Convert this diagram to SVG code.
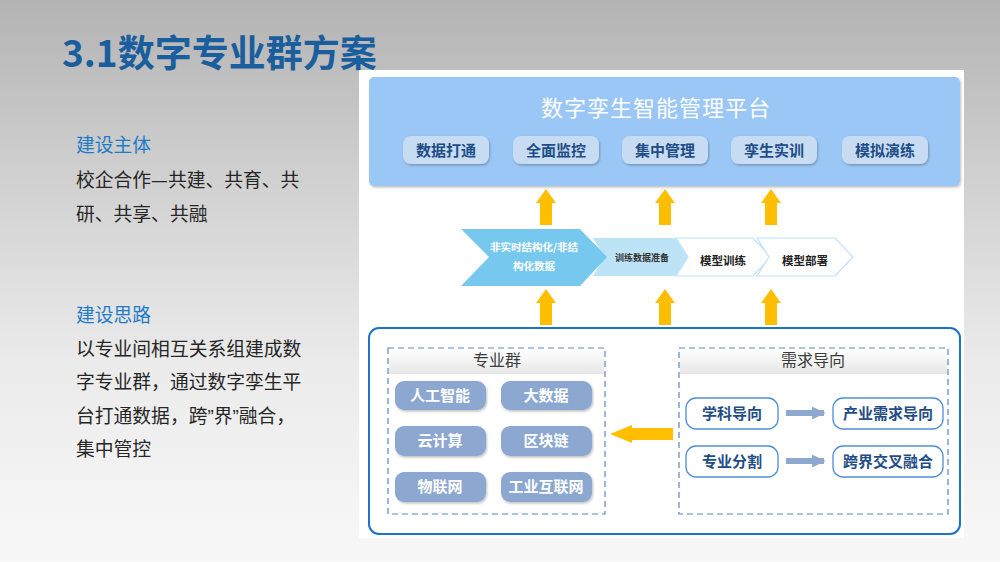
<svg xmlns="http://www.w3.org/2000/svg" width="1000" height="562" viewBox="0 0 1000 562">
<defs>
<linearGradient id="bg" x1="0" y1="0" x2="0" y2="1">
<stop offset="0" stop-color="#b3b3b3"/>
<stop offset="0.3" stop-color="#cfcfcf"/>
<stop offset="0.65" stop-color="#ebebeb"/>
<stop offset="1" stop-color="#f8f8f8"/>
</linearGradient>
<linearGradient id="hdr" x1="0" y1="0" x2="0" y2="1">
<stop offset="0" stop-color="#ffffff"/>
<stop offset="1" stop-color="#e6e6e6"/>
</linearGradient>
<filter id="sh" x="-10%" y="-10%" width="125%" height="140%">
<feDropShadow dx="1" dy="1.5" stdDeviation="1" flood-color="#000" flood-opacity="0.25"/>
</filter>
<marker id="gah" viewBox="0 0 10 10" refX="9" refY="5" markerWidth="2.2" markerHeight="2.2" orient="auto">
<path d="M0,0 L10,5 L0,10 z" fill="#8ea9d0"/>
</marker>
</defs>
<style>
.cn{font-family:"Noto Sans CJK SC","Noto Sans",sans-serif}
.side{font-size:18.8px;fill:#262626}
.sideh{font-size:18.8px;fill:#1f7bc8}
.q{font-family:"Liberation Sans",sans-serif}
.pill{fill:#c7dcf3;filter:url(#sh)}
.pillt{font-size:15px;font-weight:bold;fill:#1f4d86;text-anchor:middle}
.yel{fill:#ffbf00}
.gp{fill:#8ca8d0;filter:url(#sh)}
.gpt{font-size:15px;font-weight:bold;fill:#ffffff;text-anchor:middle}
.op{fill:#ffffff;stroke:#4a8fd8;stroke-width:1.3}
.opt{font-size:15px;font-weight:bold;fill:#1f4d86;text-anchor:middle}
.dash{fill:#ffffff;stroke:#5b87c2;stroke-width:1.2;stroke-dasharray:6 4}
.hdt{font-size:16px;fill:#3a3a3a;text-anchor:middle}
.chev{font-weight:bold;text-anchor:middle}
</style>
<rect x="0" y="0" width="1000" height="562" fill="url(#bg)"/>
<text class="cn" x="62" y="67" font-size="37" font-weight="bold" fill="#1b5e9d">3.1数字专业群方案</text>

<g id="side-text" class="cn">
<text class="sideh" x="76" y="152">建设主体</text>
<text class="side" x="76" y="187">校企合作—共建、共育、共</text>
<text class="side" x="76" y="221">研、共享、共融</text>
<text class="sideh" x="76" y="322">建设思路</text>
<text class="side" x="76" y="356">以专业间相互关系组建成数</text>
<text class="side" x="76" y="389">字专业群，通过数字孪生平</text>
<text class="side" x="76" y="423">台打通数据，跨<tspan class="q">”</tspan>界<tspan class="q">”</tspan>融合，</text>
<text class="side" x="76" y="456">集中管控</text>
</g>

<rect x="359" y="70" width="605" height="468" fill="#ffffff"/>

<g id="platform" class="cn">
<rect x="369" y="77" width="591" height="109" rx="5" fill="#9ac7f5" filter="url(#sh)"/>
<text x="656" y="116" font-size="22" fill="#ffffff" text-anchor="middle" letter-spacing="1">数字孪生智能管理平台</text>
<rect class="pill" x="403" y="136" width="86" height="28" rx="8"/>
<text class="pillt" x="446" y="155.5">数据打通</text>
<rect class="pill" x="513" y="136" width="86" height="28" rx="8"/>
<text class="pillt" x="556" y="155.5">全面监控</text>
<rect class="pill" x="622" y="136" width="86" height="28" rx="8"/>
<text class="pillt" x="665" y="155.5">集中管理</text>
<rect class="pill" x="731" y="136" width="86" height="28" rx="8"/>
<text class="pillt" x="774" y="155.5">孪生实训</text>
<rect class="pill" x="842" y="136" width="86" height="28" rx="8"/>
<text class="pillt" x="885" y="155.5">模拟演练</text>
</g>

<g id="pipeline" class="cn">
<polygon points="593,238 679,238 690,257 679,276 593,276 604,257" fill="#bde3f7"/>
<polygon points="461,229 580,229 607,257 580,286 461,286 489,257" fill="#76c8ee"/>
<text class="chev" x="534" y="251" font-size="10.5" fill="#ffffff">非实时结构化/非结</text>
<text class="chev" x="534" y="270" font-size="10.5" fill="#ffffff">构化数据</text>
<text class="chev" x="642" y="261" font-size="9" fill="#333">训练数据准备</text>
<polygon points="676,238 753,238 771,257 753,276 676,276 688,257" fill="#ffffff" stroke="#bfe2f6" stroke-width="1.2"/>
<text class="chev" x="723" y="265" font-size="11.5" fill="#222">模型训练</text>
<polygon points="757,238 835,238 853,257 835,276 757,276 769,257" fill="#ffffff" stroke="#bfe2f6" stroke-width="1.2"/>
<text class="chev" x="805" y="265" font-size="11.5" fill="#222">模型部署</text>
</g>

<rect x="369" y="328" width="591" height="206" rx="10" fill="none" stroke="#1c74c6" stroke-width="2"/>

<g id="majors" class="cn">
<rect class="dash" x="388" y="348" width="217" height="166"/>
<rect x="389" y="349" width="215" height="25" fill="url(#hdr)"/>
<text class="hdt" x="497" y="366">专业群</text>
<rect class="gp" x="395" y="381" width="91" height="29" rx="9"/>
<text class="gpt" x="440" y="400.5">人工智能</text>
<rect class="gp" x="501" y="381" width="91" height="29" rx="9"/>
<text class="gpt" x="546" y="400.5">大数据</text>
<rect class="gp" x="395" y="426" width="91" height="30" rx="9"/>
<text class="gpt" x="440" y="446">云计算</text>
<rect class="gp" x="501" y="426" width="91" height="30" rx="9"/>
<text class="gpt" x="546" y="446">区块链</text>
<rect class="gp" x="395" y="472" width="91" height="30" rx="9"/>
<text class="gpt" x="440" y="492">物联网</text>
<rect class="gp" x="501" y="472" width="91" height="30" rx="9"/>
<text class="gpt" x="546" y="492">工业互联网</text>
</g>

<g id="demand" class="cn">
<rect class="dash" x="679" y="348" width="269" height="166"/>
<rect x="680" y="349" width="267" height="25" fill="url(#hdr)"/>
<text class="hdt" x="813" y="366">需求导向</text>
<rect class="op" x="686" y="398" width="92" height="31" rx="10"/>
<text class="opt" x="732" y="418.5">学科导向</text>
<rect class="op" x="833" y="398" width="110" height="31" rx="10"/>
<text class="opt" x="888" y="418.5">产业需求导向</text>
<rect class="op" x="686" y="446" width="92" height="31" rx="10"/>
<text class="opt" x="732" y="466.5">专业分割</text>
<rect class="op" x="833" y="446" width="110" height="31" rx="10"/>
<text class="opt" x="888" y="466.5">跨界交叉融合</text>
</g>

<g id="connectors">
<polygon class="yel" points="540,225 540,203 536,203 546,189 556,203 552,203 552,225"/>
<polygon class="yel" points="659,225 659,203 655,203 665,189 675,203 671,203 671,225"/>
<polygon class="yel" points="765,225 765,203 761,203 771,189 781,203 777,203 777,225"/>
<polygon class="yel" points="540,325 540,303 536,303 546,289 556,303 552,303 552,325"/>
<polygon class="yel" points="659,325 659,303 655,303 665,289 675,303 671,303 671,325"/>
<polygon class="yel" points="765,325 765,303 761,303 771,289 781,303 777,303 777,325"/>
<polygon class="yel" points="673,428 632,428 632,425 610,434 632,443 632,440 673,440"/>
<line x1="786" y1="413" x2="824" y2="413" stroke="#8ea9d0" stroke-width="6" marker-end="url(#gah)"/>
<line x1="786" y1="461" x2="824" y2="461" stroke="#8ea9d0" stroke-width="6" marker-end="url(#gah)"/>
</g>
</svg>
